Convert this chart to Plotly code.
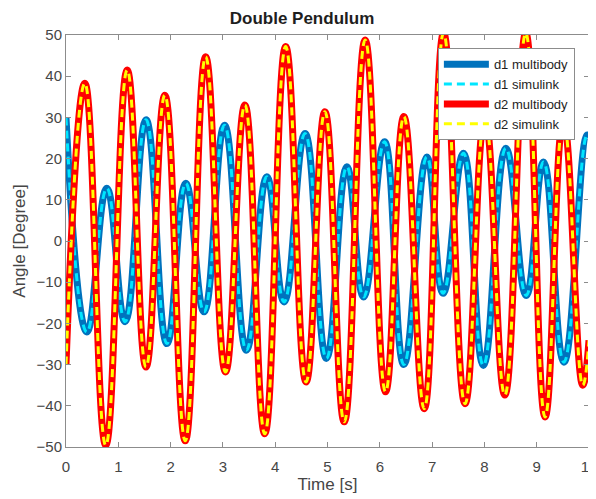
import plotly.graph_objects as go

t_d1 = [0.0, 0.40, 0.78, 1.13, 1.53, 1.93, 2.29, 2.64, 3.03, 3.45, 3.84, 4.17, 4.57, 4.98,
        5.37, 5.69, 6.09, 6.46, 6.90, 7.21, 7.60, 7.98, 8.41, 8.80, 9.13, 9.52, 9.96, 10.0]
d1_vals = [30.0, -22.1, 12.8, -19.6, 29.4, -24.9, 14.0, -17.2, 28.1, -26.5, 15.6, -14.8, 26.1, -28.5,
           18.0, -13.6, 24.1, -30.0, 20.4, -12.7, 21.3, -30.2, 22.5, -13.2, 19.2, -29.4, 25.7, 25.2]

t_d2 = [0.0, 0.36, 0.76, 1.17, 1.53, 1.89, 2.28, 2.67, 3.05, 3.42, 3.80, 4.20, 4.59, 4.95,
        5.32, 5.72, 6.11, 6.46, 6.85, 7.22, 7.63, 8.01, 8.39, 8.79, 9.16, 9.51, 9.88, 10.0]
d2_vals = [-30.0, 38.3, -49.6, 41.5, -30.6, 35.4, -48.5, 44.7, -31.8, 33.0, -46.8, 47.2, -34.2, 31.4,
           -43.9, 48.8, -36.6, 30.2, -40.7, 50.5, -39.5, 30.2, -37.4, 50.5, -42.7, 29.4, -35.0, -24.1]

x_ticks = list(range(0, 11))
y_ticks = list(range(-50, 51, 10))

series_names = ["d1 multibody", "d1 simulink", "d2 multibody", "d2 simulink"]

FONT = "Liberation Sans, Arial, sans-serif"

fig = go.Figure()
fig.add_trace(go.Scatter(x=t_d1, y=d1_vals, name=series_names[0], mode="lines",
                         line=dict(color="rgb(0,114,189)", width=7, shape="spline", smoothing=1.3)))
fig.add_trace(go.Scatter(x=t_d1, y=d1_vals, name=series_names[1], mode="lines",
                         line=dict(color="rgb(0,230,255)", width=3, dash="8px,5px", shape="spline", smoothing=1.3)))
fig.add_trace(go.Scatter(x=t_d2, y=d2_vals, name=series_names[2], mode="lines",
                         line=dict(color="rgb(255,0,0)", width=7, shape="spline", smoothing=1.3)))
fig.add_trace(go.Scatter(x=t_d2, y=d2_vals, name=series_names[3], mode="lines",
                         line=dict(color="rgb(255,255,0)", width=3, dash="8px,5px", shape="spline", smoothing=1.3)))

axis_common = dict(showgrid=False, zeroline=False, showline=True, linecolor="rgb(140,140,140)",
                   linewidth=1, mirror="allticks", ticks="inside", ticklen=5,
                   tickcolor="rgb(140,140,140)", automargin=False,
                   ticklabeloverflow="allow",
                   tickfont=dict(family=FONT, size=15, color="rgb(70,70,70)"))

fig.update_xaxes(range=[0, 10], tickvals=x_ticks, ticklabelstandoff=6,
                 title=dict(text="Time [s]", font=dict(family=FONT, size=17, color="rgb(70,70,70)"),
                            standoff=3),
                 **axis_common)
fig.update_yaxes(range=[-50, 50], tickvals=y_ticks,
                 title=dict(text="Angle [Degree]", font=dict(family=FONT, size=17, color="rgb(70,70,70)"),
                            standoff=6),
                 **axis_common)

# The page body adds an ~8px offset, so the figure is sized to fill the rest of the window.
fig.update_layout(
    width=588, height=491,
    margin=dict(l=58, r=7, t=27, b=52),
    paper_bgcolor="white", plot_bgcolor="white",
    title=dict(text="<b>Double Pendulum</b>", x=0.5, xanchor="center", y=0.98, yanchor="middle",
               font=dict(family=FONT, size=17, color="rgb(30,30,30)")),
    legend=dict(x=0.973, y=0.968, xanchor="right", yanchor="top",
                bgcolor="white", bordercolor="rgb(140,140,140)", borderwidth=1,
                font=dict(family=FONT, size=13, color="rgb(30,30,30)"),
                tracegroupgap=0, itemwidth=45),
    showlegend=True,
)

fig.write_html("out.html")
